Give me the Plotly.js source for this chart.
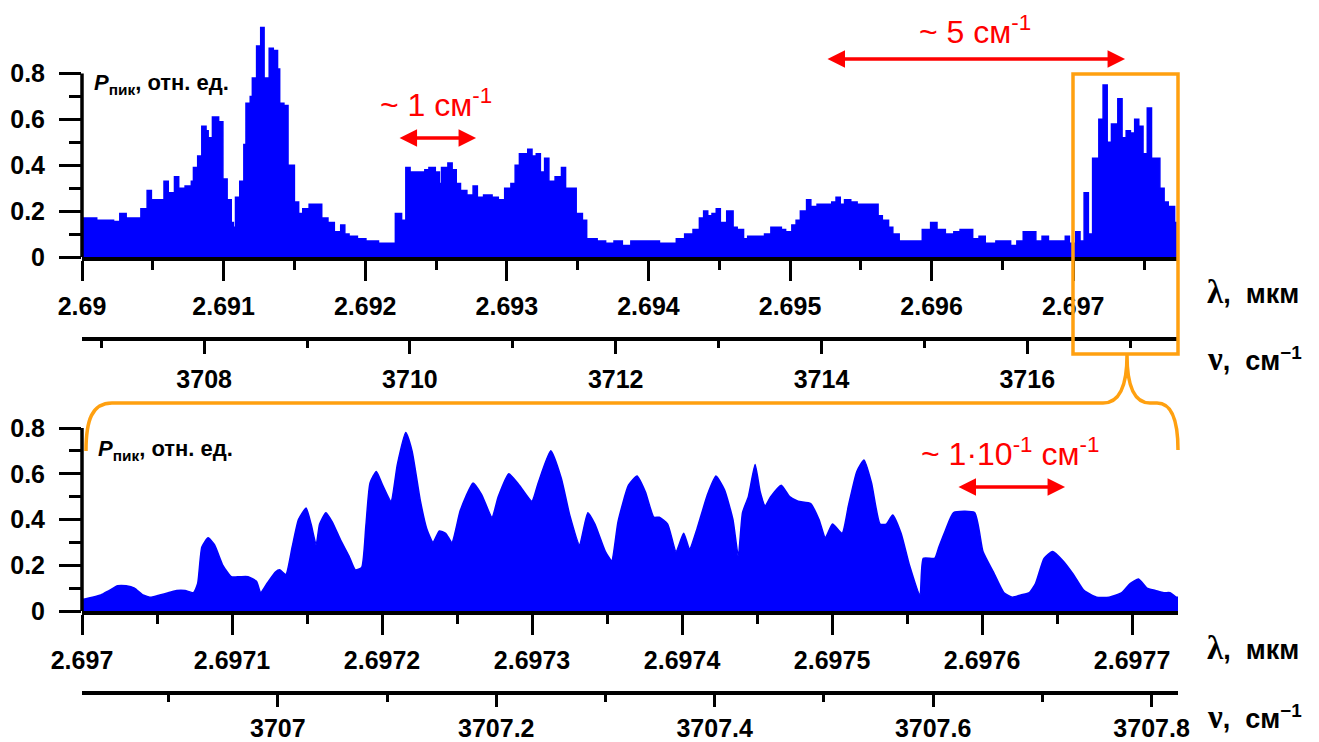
<!DOCTYPE html>
<html><head><meta charset="utf-8">
<script src="https://cdn.plot.ly/plotly-3.0.1.min.js"></script>
<style>html,body{margin:0;padding:0;background:#fff;} #chart{width:1319px;height:742px;}</style>
</head><body><div id="chart"></div>
<script>
// ---------- data: overview spectrum (wavelength in µm, relative peak power) ----------
const lamTop = [2.690000,2.690104,2.690223,2.690267,2.690312,2.690416,2.690460,2.690490,2.690579,2.690609,
2.690653,2.690683,2.690728,2.690772,2.690787,2.690817,2.690846,2.690876,2.690891,2.690921,
2.690965,2.690995,2.691025,2.691054,2.691069,2.691084,2.691114,2.691143,2.691158,2.691188,
2.691203,2.691233,2.691262,2.691286,2.691322,2.691351,2.691381,2.691396,2.691426,2.691455,
2.691500,2.691530,2.691559,2.691604,2.691693,2.691737,2.691782,2.691827,2.691856,2.691886,
2.691945,2.692005,2.692094,2.692213,2.692257,2.692287,2.692317,2.692421,2.692450,2.692495,
2.692524,2.692539,2.692584,2.692614,2.692643,2.692673,2.692718,2.692762,2.692792,2.692836,
2.692896,2.692940,2.692985,2.693029,2.693059,2.693089,2.693148,2.693178,2.693208,2.693237,
2.693267,2.693297,2.693341,2.693386,2.693415,2.693490,2.693534,2.693564,2.693638,2.693698,
2.693757,2.693816,2.693876,2.694078,2.694197,2.694256,2.694315,2.694360,2.694390,2.694419,
2.694449,2.694479,2.694508,2.694553,2.694598,2.694627,2.694672,2.694701,2.694820,2.694865,
2.694939,2.694969,2.695013,2.695043,2.695073,2.695117,2.695147,2.695191,2.695295,2.695325,
2.695355,2.695385,2.695429,2.695474,2.695622,2.695652,2.695696,2.695726,2.695771,2.695934,
2.695993,2.696038,2.696097,2.696157,2.696201,2.696290,2.696335,2.696379,2.696454,2.696558,
2.696602,2.696647,2.696736,2.696780,2.696825,2.696944,2.696973,2.697018,2.697048,2.697077,
2.697107,2.697137,2.697181,2.697211,2.697240,2.697270,2.697315,2.697345,2.697374,2.697404,
2.697434,2.697463,2.697493,2.697523,2.697553,2.697612,2.697642,2.697671,2.697716,2.697740];
const powTop = [0.17,0.16,0.155,0.19,0.17,0.21,0.29,0.25,0.33,0.28,
0.35,0.30,0.31,0.33,0.39,0.44,0.57,0.55,0.52,0.61,
0.59,0.34,0.25,0.15,0.13,0.26,0.33,0.49,0.67,0.70,
0.78,0.92,1.00,0.78,0.91,0.90,0.82,0.67,0.66,0.40,
0.24,0.19,0.21,0.23,0.17,0.15,0.11,0.14,0.10,0.09,
0.08,0.07,0.06,0.19,0.16,0.39,0.37,0.38,0.39,0.37,
0.32,0.39,0.41,0.38,0.32,0.29,0.27,0.31,0.26,0.27,
0.26,0.25,0.30,0.32,0.40,0.45,0.47,0.44,0.45,0.37,
0.43,0.33,0.35,0.39,0.30,0.19,0.16,0.08,0.07,0.06,
0.07,0.05,0.07,0.06,0.08,0.10,0.12,0.17,0.20,0.18,
0.19,0.21,0.15,0.20,0.13,0.12,0.08,0.09,0.10,0.13,
0.12,0.11,0.14,0.16,0.20,0.25,0.22,0.23,0.24,0.26,
0.23,0.25,0.24,0.23,0.18,0.16,0.13,0.10,0.07,0.12,
0.15,0.12,0.10,0.11,0.12,0.08,0.09,0.06,0.07,0.05,
0.07,0.11,0.07,0.09,0.07,0.09,0.06,0.11,0.07,0.28,
0.10,0.43,0.60,0.75,0.50,0.58,0.69,0.52,0.55,0.54,
0.60,0.57,0.45,0.65,0.43,0.30,0.24,0.22,0.15,0.15];

// ---------- data: zoomed spectrum ----------
const lamZoom = [2.6970000,2.6970070,2.6970126,2.6970182,2.6970238,2.6970294,2.6970350,2.6970406,2.6970462,2.6970519,
2.6970575,2.6970631,2.6970687,2.6970743,2.6970771,2.6970799,2.6970841,2.6970883,2.6970939,2.6970995,
2.6971051,2.6971107,2.6971163,2.6971191,2.6971233,2.6971289,2.6971317,2.6971359,2.6971401,2.6971443,
2.6971494,2.6971527,2.6971561,2.6971584,2.6971626,2.6971668,2.6971724,2.6971780,2.6971822,2.6971864,
2.6971892,2.6971920,2.6971962,2.6972004,2.6972060,2.6972102,2.6972158,2.6972200,2.6972256,2.6972298,
2.6972340,2.6972382,2.6972424,2.6972466,2.6972522,2.6972607,2.6972663,2.6972733,2.6972775,2.6972845,
2.6972915,2.6972999,2.6973041,2.6973125,2.6973195,2.6973251,2.6973316,2.6973372,2.6973419,2.6973489,
2.6973531,2.6973573,2.6973643,2.6973700,2.6973756,2.6973812,2.6973848,2.6973904,2.6973960,2.6974011,
2.6974050,2.6974100,2.6974170,2.6974226,2.6974283,2.6974339,2.6974375,2.6974403,2.6974442,2.6974487,
2.6974521,2.6974554,2.6974591,2.6974661,2.6974717,2.6974773,2.6974857,2.6974913,2.6974955,2.6975003,
2.6975067,2.6975109,2.6975165,2.6975213,2.6975263,2.6975320,2.6975362,2.6975404,2.6975460,2.6975516,
2.6975586,2.6975608,2.6975684,2.6975712,2.6975754,2.6975810,2.6975950,2.6976006,2.6976076,2.6976146,
2.6976202,2.6976258,2.6976315,2.6976356,2.6976413,2.6976469,2.6976539,2.6976609,2.6976679,2.6976763,
2.6976847,2.6976931,2.6976987,2.6977043,2.6977099,2.6977155,2.6977211,2.6977253,2.6977295,2.6977315];
const powZoom = [0.05,0.06,0.07,0.09,0.11,0.11,0.10,0.07,0.06,0.07,
0.08,0.09,0.09,0.08,0.12,0.28,0.32,0.29,0.20,0.15,
0.15,0.15,0.13,0.08,0.12,0.17,0.18,0.16,0.28,0.40,
0.45,0.38,0.29,0.38,0.43,0.39,0.31,0.24,0.18,0.19,
0.37,0.56,0.61,0.55,0.48,0.64,0.78,0.70,0.48,0.36,
0.30,0.35,0.34,0.30,0.44,0.56,0.51,0.41,0.50,0.60,
0.55,0.48,0.56,0.70,0.58,0.42,0.29,0.43,0.38,0.26,
0.22,0.39,0.55,0.59,0.52,0.41,0.41,0.38,0.26,0.34,
0.27,0.36,0.51,0.59,0.53,0.40,0.24,0.43,0.50,0.64,
0.52,0.46,0.50,0.55,0.50,0.48,0.47,0.40,0.32,0.38,
0.34,0.46,0.61,0.66,0.56,0.38,0.38,0.42,0.34,0.20,
0.07,0.23,0.23,0.28,0.35,0.43,0.43,0.26,0.17,0.08,
0.06,0.07,0.08,0.12,0.23,0.26,0.22,0.16,0.09,0.06,
0.06,0.08,0.12,0.14,0.10,0.09,0.08,0.08,0.06,0.06];

// ---------- axes: ranges and ticks ----------
const lamTopRange = [2.69, 2.69774];
const nuTopRange = [3706.813, 3717.465];
const lamZoomRange = [2.697, 2.6977306];
const nuZoomRange = [3706.8207, 3707.8242];
const lamTopTicks = [2.69, 2.691, 2.692, 2.693, 2.694, 2.695, 2.696, 2.697];
const lamTopLabels = ['2.69','2.691','2.692','2.693','2.694','2.695','2.696','2.697'];
const lamTopMinor = [2.6905, 2.6915, 2.6925, 2.6935, 2.6945, 2.6955, 2.6965, 2.6975];
const nuTopTicks = [3708, 3710, 3712, 3714, 3716];
const nuTopLabels = ['3708','3710','3712','3714','3716'];
const nuTopMinor = [3707, 3709, 3711, 3713, 3715, 3717];
const lamZoomTicks = [2.697, 2.6971, 2.6972, 2.6973, 2.6974, 2.6975, 2.6976, 2.6977];
const lamZoomLabels = ['2.697','2.6971','2.6972','2.6973','2.6974','2.6975','2.6976','2.6977'];
const lamZoomMinor = [2.69705, 2.69715, 2.69725, 2.69735, 2.69745, 2.69755, 2.69765];
const nuZoomTicks = [3707, 3707.2, 3707.4, 3707.6, 3707.8];
const nuZoomLabels = ['3707','3707.2','3707.4','3707.6','3707.8'];
const nuZoomMinor = [3706.9, 3707.1, 3707.3, 3707.5, 3707.7];
const yTicks = [0, 0.2, 0.4, 0.6, 0.8];
const yLabels = ['0','0.2','0.4','0.6','0.8'];
const yMinor = [0.1, 0.3, 0.5, 0.7];
const yTopRange = [0, 1.02];
const yZoomRange = [0, 0.85];
const yAxisTop = 0.8;

// arrows (span markers) in wavelength units
const arrowSmall = [2.692232, 2.692783];
const arrowBig = [2.695254, 2.697366];
const arrowZoom = [2.6975833, 2.6976553];

// ---------- geometry helpers (pixel -> paper) ----------
const W = 1319, H = 742;
const PX = v => v / W;
const PY = v => 1 - v / H;
const BLUE = '#0000FF', RED = '#FF0000', ORANGE = '#FFA010';
const SANS = 'Liberation Sans, Arial, sans-serif';

const tickFont = {family: SANS, size: 25, color: '#000', weight: 'bold'};
function minorCfg(vals, len) {
  return {tickmode: 'array', tickvals: vals, ticks: 'outside', ticklen: len, tickwidth: 3, tickcolor: '#000', showgrid: false};
}
function xAxis(range, ticks, labels, minor, extra) {
  return Object.assign({
    range: range, autorange: false, showgrid: false, zeroline: false,
    showline: true, linecolor: '#000', linewidth: 4,
    ticks: 'outside', ticklen: 20, tickwidth: 3, tickcolor: '#000',
    tickmode: 'array', tickvals: ticks, ticktext: labels,
    minor: minorCfg(minor, 9), tickfont: tickFont, ticklabelstandoff: 4, fixedrange: true
  }, extra);
}
function yAxis(range, domain) {
  return {
    range: range, autorange: false, domain: domain, showgrid: false, zeroline: false,
    showline: false, ticks: 'outside', ticklen: 22, tickwidth: 3, tickcolor: '#000',
    tickmode: 'array', tickvals: yTicks, ticktext: yLabels,
    minor: minorCfg(yMinor, 12), tickfont: tickFont, ticklabelstandoff: 9, fixedrange: true
  };
}

const xDom = [PX(82), PX(1178)];

const traces = [
  {x: lamTop, y: powTop, xaxis: 'x', yaxis: 'y', type: 'scatter', mode: 'lines',
   line: {shape: 'hv', color: BLUE, width: 1.5}, fill: 'tozeroy', fillcolor: BLUE, hoverinfo: 'skip'},
  {x: lamZoom, y: powZoom, xaxis: 'x2', yaxis: 'y2', type: 'scatter', mode: 'lines',
   line: {shape: 'spline', smoothing: 0.5, color: BLUE, width: 1.5}, fill: 'tozeroy', fillcolor: BLUE, hoverinfo: 'skip'},
  {x: nuTopRange, y: [0, 0], xaxis: 'x3', yaxis: 'y', type: 'scatter', mode: 'lines',
   line: {width: 0, color: 'rgba(0,0,0,0)'}, hoverinfo: 'skip'},
  {x: nuZoomRange, y: [0, 0], xaxis: 'x4', yaxis: 'y2', type: 'scatter', mode: 'lines',
   line: {width: 0, color: 'rgba(0,0,0,0)'}, hoverinfo: 'skip'}
];

function P(x, y) { return PX(x).toFixed(5) + ',' + PY(y).toFixed(5); }
const bracePath =
  'M' + P(86, 451) + ' C' + P(86, 420) + ' ' + P(92, 403) + ' ' + P(112, 403) +
  ' L' + P(1103, 403) + ' C' + P(1120, 403) + ' ' + P(1127, 385) + ' ' + P(1127, 355) +
  ' C' + P(1127, 385) + ' ' + P(1134, 403) + ' ' + P(1150, 403) +
  ' L' + P(1157, 403) + ' C' + P(1171, 403) + ' ' + P(1178, 420) + ' ' + P(1178, 450);

const shapes = [
  {type: 'line', xref: 'x domain', yref: 'y', x0: 0, x1: 0, y0: 0, y1: yAxisTop, line: {color: '#000', width: 3.5}},
  {type: 'line', xref: 'x2 domain', yref: 'y2', x0: 0, x1: 0, y0: 0, y1: yAxisTop, line: {color: '#000', width: 3.5}},
  {type: 'rect', xref: 'paper', yref: 'paper', x0: PX(1073), x1: PX(1178), y0: PY(354), y1: PY(74),
   line: {color: ORANGE, width: 3.5}, fillcolor: 'rgba(0,0,0,0)'},
  {type: 'path', xref: 'paper', yref: 'paper', path: bracePath, line: {color: ORANGE, width: 3.5}}
];

function txt(text, x, y, size, color, xanchor, extraFont) {
  return {text: text, xref: 'paper', yref: 'paper', x: PX(x), y: PY(y), showarrow: false,
    xanchor: xanchor || 'center', yanchor: 'middle',
    font: Object.assign({family: SANS, size: size, color: color}, extraFont || {})};
}
function arrow(xr, span, y) {
  return {text: '', xref: xr, yref: 'paper', x: span[1], y: PY(y), axref: xr, ax: span[0], ayref: 'pixel', ay: 0,
    showarrow: true, arrowside: 'end+start', arrowhead: 2, arrowsize: 1, arrowwidth: 3.5, arrowcolor: RED, standoff: 0, startstandoff: 0};
}
const pLabel = '<b><i>P</i><sub>пик</sub>, отн. ед.</b>';
const lamLabel = '<b><span style="font-family:Liberation Serif;font-size:33px">λ</span>,  мкм</b>';
const nuLabel = '<b><span style="font-family:Liberation Serif;font-size:33px">ν</span>,  см<sup>−1</sup></b>';

const annotations = [
  txt(pLabel, 92, 84, 22, '#000', 'left'),
  txt(pLabel, 96, 450, 22, '#000', 'left'),
  txt('~ 1 см<sup>-1</sup>', 436, 103, 32, RED),
  txt('~ 5 см<sup>-1</sup>', 975, 30, 32, RED),
  txt('~ 1·10<sup>-1</sup> см<sup>-1</sup>', 1010, 452, 32, RED),
  txt(lamLabel, 1205, 292, 27, '#000', 'left'),
  txt(nuLabel, 1205, 359, 27, '#000', 'left'),
  txt(lamLabel, 1205, 648, 27, '#000', 'left'),
  txt(nuLabel, 1205, 717, 27, '#000', 'left'),
  arrow('x', arrowSmall, 138),
  arrow('x', arrowBig, 59),
  arrow('x2', arrowZoom, 487)
];

const layout = {
  width: W, height: H, margin: {l: 0, r: 0, t: 0, b: 0},
  paper_bgcolor: '#fff', plot_bgcolor: 'rgba(0,0,0,0)', showlegend: false,
  xaxis: xAxis(lamTopRange, lamTopTicks, lamTopLabels, lamTopMinor, {domain: xDom, anchor: 'y'}),
  yaxis: yAxis(yTopRange, [PY(257), PY(257 - 229.4 * 1.02)]),
  xaxis2: xAxis(lamZoomRange, lamZoomTicks, lamZoomLabels, lamZoomMinor, {domain: xDom, anchor: 'y2'}),
  yaxis2: yAxis(yZoomRange, [PY(611), PY(611 - 228.75 * 0.85)]),
  xaxis3: xAxis(nuTopRange, nuTopTicks, nuTopLabels, nuTopMinor,
    {overlaying: 'x', anchor: 'free', position: PY(338), side: 'bottom', linewidth: 3.5, ticklen: 13, minor: minorCfg(nuTopMinor, 7)}),
  xaxis4: xAxis(nuZoomRange, nuZoomTicks, nuZoomLabels, nuZoomMinor,
    {overlaying: 'x2', anchor: 'free', position: PY(692), side: 'bottom', linewidth: 3.5, ticklen: 12, ticklabelstandoff: 0,
     minor: minorCfg(nuZoomMinor, 7)}),
  shapes: shapes,
  annotations: annotations
};

Plotly.newPlot('chart', traces, layout, {staticPlot: true, displayModeBar: false});
</script>
</body></html>
